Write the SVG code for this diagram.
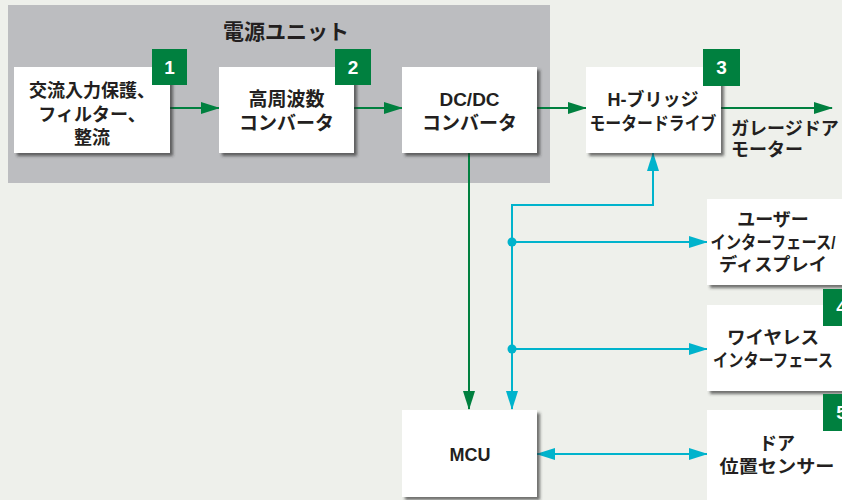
<svg xmlns="http://www.w3.org/2000/svg" width="842" height="500" viewBox="0 0 842 500">
<style>
.bg{fill:#eef0eb}
.panel{fill:#bcbdc0}
.box{fill:#ffffff;filter:url(#sh)}
.badge{fill:#00803f}
.bnum{font-family:"Liberation Sans","Noto Sans CJK JP",sans-serif;font-weight:bold;font-size:19px;fill:#ffffff;text-anchor:middle}
.t{font-family:"Liberation Sans","Noto Sans CJK JP",sans-serif;font-weight:bold;font-size:18px;fill:#231f20;text-anchor:middle}
.tl{font-family:"Liberation Sans","Noto Sans CJK JP",sans-serif;font-weight:bold;font-size:18px;fill:#231f20}
.g{stroke:#00803f;stroke-width:2;fill:none}
.c{stroke:#00b3cc;stroke-width:2;fill:none}
</style>
<defs>
<filter id="sh" x="-10%" y="-10%" width="130%" height="130%">
<feDropShadow dx="3" dy="3" stdDeviation="1.5" flood-color="#2a2a2a" flood-opacity="0.65"/>
</filter>
<marker id="ag" markerUnits="userSpaceOnUse" markerWidth="19" markerHeight="12" refX="18" refY="6" orient="auto">
<path d="M0,0 L19,6 L0,12 z" fill="#00803f"/>
</marker>
<marker id="ac" markerUnits="userSpaceOnUse" markerWidth="19" markerHeight="12" refX="18" refY="6" orient="auto-start-reverse">
<path d="M0,0 L19,6 L0,12 z" fill="#00b3cc"/>
</marker>
</defs>
<rect class="bg" x="0" y="0" width="842" height="500"/>
<rect class="panel" x="8" y="5" width="542" height="178"/>
<text class="t" x="286" y="39" style="font-size:21px">電源ユニット</text>

<g id="connectors">
<path class="g" d="M170,108 H219" marker-end="url(#ag)"/>
<path class="g" d="M354,108 H402" marker-end="url(#ag)"/>
<path class="g" d="M537,108 H586" marker-end="url(#ag)"/>
<path class="g" d="M721,108 H832" marker-end="url(#ag)"/>
<path class="g" d="M469,153 V409" marker-end="url(#ag)"/>
<path class="c" d="M512,409 V205 H653 V153" marker-start="url(#ac)" marker-end="url(#ac)"/>
<path class="c" d="M512,242 H707" marker-end="url(#ac)"/>
<path class="c" d="M512,349 H707" marker-end="url(#ac)"/>
<path class="c" d="M537,454 H707" marker-start="url(#ac)" marker-end="url(#ac)"/>
<circle cx="512" cy="242" r="4.5" fill="#00b3cc"/>
<circle cx="512" cy="349" r="4.5" fill="#00b3cc"/>
</g>

<g id="n1">
<rect class="box" x="14" y="67" width="156" height="86"/>
<text class="t" x="92" y="97">交流入力保護、</text>
<text class="t" x="92" y="121">フィルター、</text>
<text class="t" x="92" y="144">整流</text>
<rect class="badge" x="152" y="49" width="35" height="36"/>
<text class="bnum" x="169.5" y="74">1</text>
</g>
<g id="n2">
<rect class="box" x="219" y="67" width="135" height="86"/>
<text class="t" x="286.5" y="106" style="font-size:19px">高周波数</text>
<text class="t" x="286.5" y="130" style="font-size:19px">コンバータ</text>
<rect class="badge" x="335" y="49" width="36" height="36"/>
<text class="bnum" x="353" y="74">2</text>
</g>
<g id="n3">
<rect class="box" x="402" y="67" width="135" height="86"/>
<text class="t" x="469.5" y="106" style="font-size:19px">DC/DC</text>
<text class="t" x="469.5" y="130" style="font-size:19px">コンバータ</text>
</g>
<g id="n4">
<rect class="box" x="586" y="67" width="135" height="86"/>
<text class="t" x="653" y="106">H-ブリッジ</text>
<text class="t" x="653" y="130" textLength="127" lengthAdjust="spacingAndGlyphs">モータードライブ</text>
<rect class="badge" x="703" y="49" width="37" height="37"/>
<text class="bnum" x="721.5" y="74">3</text>
</g>
<g id="motor">
<text class="tl" x="731" y="135">ガレージドア</text>
<text class="tl" x="731" y="156">モーター</text>
</g>
<g id="n5">
<rect class="box" x="707" y="199" width="150" height="86"/>
<text class="t" x="773" y="226">ユーザー</text>
<text class="t" x="773" y="249" textLength="125" lengthAdjust="spacingAndGlyphs">インターフェース/</text>
<text class="t" x="773" y="271" textLength="108" lengthAdjust="spacingAndGlyphs">ディスプレイ</text>
</g>
<g id="n6">
<rect class="box" x="707" y="305" width="150" height="86"/>
<text class="t" x="773" y="344" textLength="92" lengthAdjust="spacingAndGlyphs">ワイヤレス</text>
<text class="t" x="773" y="367" textLength="120" lengthAdjust="spacingAndGlyphs">インターフェース</text>
<rect class="badge" x="823" y="289" width="37" height="37"/>
<text class="bnum" x="841.5" y="314">4</text>
</g>
<g id="n7">
<rect class="box" x="707" y="410" width="150" height="100"/>
<text class="t" x="777" y="450">ドア</text>
<text class="t" x="777" y="473" textLength="115" lengthAdjust="spacingAndGlyphs">位置センサー</text>
<rect class="badge" x="823" y="394" width="37" height="37"/>
<text class="bnum" x="841.5" y="419">5</text>
</g>
<g id="n8">
<rect class="box" x="402" y="410" width="135" height="87"/>
<text class="t" x="470" y="461">MCU</text>
</g>
</svg>
